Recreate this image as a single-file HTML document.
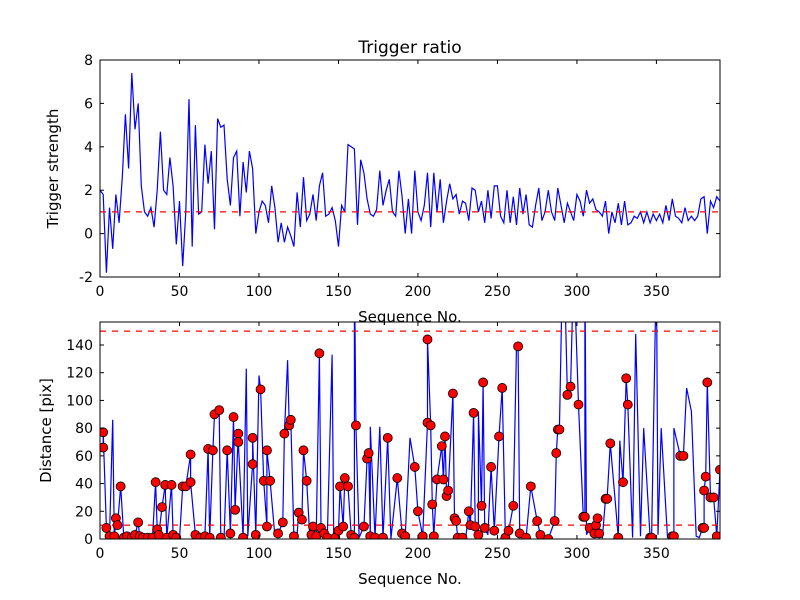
<!DOCTYPE html>
<html><head><meta charset="utf-8"><style>
body{margin:0;background:#fff;}
svg{display:block;font-family:"DejaVu Sans","Liberation Sans",sans-serif;}
</style></head><body>
<svg id="fig" width="800" height="600" xmlns="http://www.w3.org/2000/svg"></svg>
<script>
const seqTop=[0,2,4,6,8,10,12,14,16,18,20,22,24,26,28,30,32,34,36,38,40,42,44,46,48,50,52,54,56,58,60,62,64,66,68,70,72,74,76,78,80,82,84,86,88,90,92,94,96,98,100,102,104,106,108,110,112,114,116,118,120,122,124,126,128,130,132,134,136,138,140,142,144,146,148,150,152,154,156,158,160,162,164,166,168,170,172,174,176,178,180,182,184,186,188,190,192,194,196,198,200,202,204,206,208,210,212,214,216,218,220,222,224,226,228,230,232,234,236,238,240,242,244,246,248,250,252,254,256,258,260,262,264,266,268,270,272,274,276,278,280,282,284,286,288,290,292,294,296,298,300,302,304,306,308,310,312,314,316,318,320,322,324,326,328,330,332,334,336,338,340,342,344,346,348,350,352,354,356,358,360,362,364,366,368,370,372,374,376,378,380,382,384,386,388,390];
const strength=[2,1.8,-1.8,1.2,-0.7,1.8,0.5,2.6,5.5,3.0,7.4,4.8,6.0,2.2,1.0,0.8,1.2,0.3,2.0,4.7,2.0,1.8,3.5,2.2,-0.5,1.5,-1.5,1.0,6.2,-0.6,5.0,0.9,1.0,4.1,2.3,3.8,0.2,5.3,4.9,5.0,2.5,1.3,3.5,3.8,0.8,3.3,1.9,3.8,3.0,0.0,1.0,1.5,1.3,0.5,2.2,1.2,-0.4,0.5,-0.4,0.3,-0.1,-0.6,1.9,0.3,2.6,0.6,0.9,1.8,0.6,2.2,2.8,0.8,0.9,1.2,0.6,-0.6,1.3,1.0,4.1,4.0,3.9,0.4,3.4,2.8,1.6,0.9,0.8,1.1,2.9,1.3,2.0,2.5,1.0,0.8,2.9,1.7,0.0,1.6,0.0,2.9,1.0,0.6,1.3,2.8,0.3,2.8,1.0,2.5,0.5,1.5,2.3,1.6,1.8,0.9,1.5,1.4,0.6,2.1,2.0,1.0,1.5,0.5,2.0,0.7,2.2,2.2,0.8,0.5,2.0,0.5,1.7,0.4,2.1,0.9,1.8,0.4,0.3,1.3,2.1,0.6,1.0,2.0,1.0,0.6,2.1,1.3,0.5,1.4,1.0,0.6,1.8,1.5,0.8,2.0,1.4,1.6,1.1,1.0,0.8,1.5,0.0,1.0,0.5,1.4,0.4,1.5,0.4,0.5,0.8,0.7,1.0,0.5,1.0,0.5,0.9,0.6,0.9,0.5,1.3,0.6,1.6,0.8,0.7,0.5,1.2,0.6,0.8,0.6,0.8,1.6,1.7,0.0,1.5,1.2,1.7,1.5];
const markerSeq=[2,2,4,6,9,10,11,13,15,17,20,22,24,25,27,30,33,35,36,37,39,41,42,45,46,48,52,54,57,57,60,63,66,68,69,71,72,75,76,80,82,84,85,87,87,90,96,96,98,101,103,105,105,107,112,115,116,119,120,122,125,127,128,130,133,134,136,138,139,141,143,148,150,151,153,154,156,158,160,161,166,168,169,170,173,178,181,187,190,192,198,200,203,206,206,208,209,210,212,215,216,217,218,219,222,223,224,225,228,232,233,235,236,238,240,241,242,246,248,251,253,255,257,260,263,264,268,271,275,277,282,286,287,288,289,294,296,301,304,305,308,311,312,313,314,318,319,321,326,329,331,332,346,347,360,361,365,367,379,380,380,381,382,384,386,388,390];
const markerDist=[66,77,8,2,2,15,10,38,1,2,1,3,12,2,1,1,1,41,7,3,23,39,1,39,3,1,38,38,61,41,3,1,2,65,1,64,90,93,1,64,4,88,21,76,70,1,54,73,3,108,42,9,64,42,4,12,76,82,86,2,19,14,64,42,3,9,2,134,8,4,1,1,6,38,9,44,38,3,1,82,9,58,62,2,1,1,73,44,4,2,52,20,2,84,144,82,25,2,43,67,43,74,31,35,105,15,13,1,1,20,10,91,9,3,24,113,8,52,6,74,109,1,6,24,139,4,1,38,13,3,0,13,62,79,79,104,110,97,16,16,8,4,10,15,4,29,29,69,1,41,116,97,1,1,2,2,60,60,8,8,35,45,113,30,30,2,50];
const spikeSeq=[8,9,18,28,50,62,78,92,93,100,110,118,124,132,146,147,160,163,170,176,183,195,226,230,238,244,262,266,280,291,292,298,305,306,316,327,335,337,340,342,350,351,353,357,361,369,372,375,377];
const spikeDist=[86,1,2,0,0,2,0,123,2,118,2,129,3,1,133,2,200,1,81,81,0,73,3,0,92,3,139,2,1,200,200,200,200,3,1,71,1,148,2,80,200,3,80,1,80,109,92,2,1];
const yTicksTop=[-2,0,2,4,6,8];
const yTicksBot=[0,20,40,60,80,100,120,140];
const xTicks=[0,50,100,150,200,250,300,350];
const NS="http://www.w3.org/2000/svg";
const svg=document.getElementById('fig');
function mk(tag,attrs,parent){const e=document.createElementNS(NS,tag);for(const k in attrs)e.setAttribute(k,attrs[k]);(parent||svg).appendChild(e);return e;}
const L=100,R=720,xMax=390;
function sx(v){return L+(v/xMax)*(R-L);}
const axTop={t:60,b:277,min:-2,max:8};
const axBot={t:322,b:539,min:0,max:156.6};
function sy(a,v){return a.b-(v-a.min)/(a.max-a.min)*(a.b-a.t);}
function axes(a,yt,name,ylab,labX){
  const g=mk('g',{});
  
  
  const clipId=name+'-clip';
  const cp=mk('clipPath',{id:clipId},g);mk('rect',{x:L,y:a.t,width:R-L,height:a.b-a.t},cp);
  const plot=mk('g',{'clip-path':'url(#'+clipId+')'},g);
  for(const v of xTicks){const x=sx(v);
    mk('line',{x1:x,x2:x,y1:a.b,y2:a.b-4,stroke:'#000'},g);mk('line',{x1:x,x2:x,y1:a.t,y2:a.t+4,stroke:'#000'},g);
    const t=mk('text',{x:x,y:a.b+19,'text-anchor':'middle','font-size':14},g);t.textContent=v;
    
    }
  for(const v of yt){const y=sy(a,v);
    mk('line',{x1:L,x2:L+4,y1:y,y2:y,stroke:'#000'},g);mk('line',{x1:R,x2:R-4,y1:y,y2:y,stroke:'#000'},g);
    const t=mk('text',{x:L-7,y:y+5,'text-anchor':'end','font-size':14},g);t.textContent=v;
    
    }
  const xl=mk('text',{x:(L+R)/2,y:a.b+45,'text-anchor':'middle','font-size':15},g);xl.textContent='Sequence No.';
  
  
  const cy=(a.t+a.b)/2;
  const yl=mk('text',{x:0,y:0,'text-anchor':'middle','font-size':15,transform:'translate('+labX+','+cy+') rotate(-90)'},g);yl.textContent=ylab;
  
  
  return {g,plot};
}
const A=axes(axTop,yTicksTop,'trigger-axes','Trigger strength',58);
let d='';seqTop.forEach((x,i)=>{d+=(i?'L':'M')+sx(x).toFixed(1)+' '+sy(axTop,strength[i]).toFixed(1);});
const l1=mk('path',{d:d,fill:'none',stroke:'#0000ff','stroke-width':1.2},A.plot);


const r1=mk('line',{x1:L,x2:R,y1:sy(axTop,1),y2:sy(axTop,1),stroke:'#ff0000','stroke-dasharray':'6,6','stroke-width':1.2},A.plot);


mk('rect',{x:L,y:axTop.t,width:R-L,height:axTop.b-axTop.t,fill:'none',stroke:'#000'},A.g);
const ttl=mk('text',{x:410,y:53,'text-anchor':'middle','font-size':17});ttl.textContent='Trigger ratio';



const B=axes(axBot,yTicksBot,'distance-axes','Distance [pix]',51);
const pts=[];markerSeq.forEach((x,i)=>pts.push([x,markerDist[i]]));spikeSeq.forEach((x,i)=>pts.push([x,spikeDist[i]]));
pts.sort((p,q)=>p[0]-q[0]);
let d2='';pts.forEach((p,i)=>{d2+=(i?'L':'M')+sx(p[0]).toFixed(1)+' '+sy(axBot,p[1]).toFixed(1);});
const l2=mk('path',{d:d2,fill:'none',stroke:'#0000ff','stroke-width':1.2},B.plot);


for(const v of [10,150]){const r=mk('line',{x1:L,x2:R,y1:sy(axBot,v),y2:sy(axBot,v),stroke:'#ff0000','stroke-dasharray':'6,6','stroke-width':1.2},B.plot);
  
  }
markerSeq.forEach((x,i)=>{const c=mk('circle',{cx:sx(x),cy:sy(axBot,markerDist[i]),r:4.5,fill:'#ff0000',stroke:'#000','stroke-width':0.8},B.plot);
  
  });
mk('rect',{x:L,y:axBot.t,width:R-L,height:axBot.b-axBot.t,fill:'none',stroke:'#000'},B.g);
</script>
</body></html>
